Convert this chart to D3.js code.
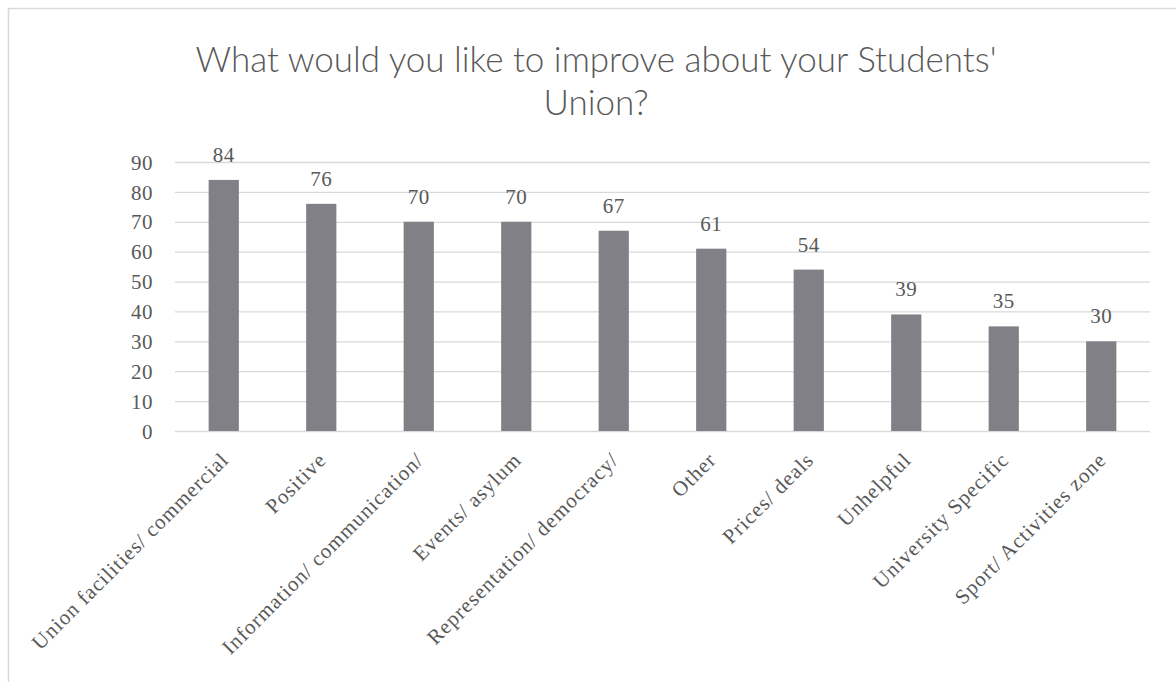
<!DOCTYPE html>
<html>
<head>
<meta charset="utf-8">
<script src="https://cdn.jsdelivr.net/npm/d3@7"></script>
<style>
  html, body { margin: 0; padding: 0; background: #ffffff; }
  svg { display: block; }
</style>
</head>
<body>
<svg id="chart" width="1176" height="682"></svg>
<script>
// Survey responses: what students would like to improve
const categories = [
  "Union facilities/ commercial",
  "Positive",
  "Information/ communication/",
  "Events/ asylum",
  "Representation/ democracy/",
  "Other",
  "Prices/ deals",
  "Unhelpful",
  "University Specific",
  "Sport/ Activities zone"
];
const counts = [84, 76, 70, 70, 67, 61, 54, 39, 35, 30];
const yTicks = [0, 10, 20, 30, 40, 50, 60, 70, 80, 90];
const titleLines = ["What would you like to improve about your Students'", "Union?"];

const svg = d3.select("#chart");
const W = 1176, H = 682;
const plot = { left: 175, right: 1150, top: 162, bottom: 431 };

// outer chart frame
svg.append("rect")
  .attr("x", 8.5).attr("y", 8.5)
  .attr("width", W + 40).attr("height", H + 40)
  .attr("fill", "#ffffff")
  .attr("stroke", "#d9d9d9")
  .attr("stroke-width", 1.5);

const x = d3.scaleBand()
  .domain(categories)
  .range([plot.left, plot.right])
  .paddingInner(0.69)
  .paddingOuter(0.345);

const y = d3.scaleLinear()
  .domain([0, 90])
  .range([plot.bottom, plot.top]);

const serif = "'Liberation Serif', 'Times New Roman', serif";
const textColor = "#595959";

// horizontal gridlines + value axis labels
const yAxis = d3.axisLeft(y)
  .tickValues(yTicks)
  .tickSize(-(plot.right - plot.left))
  .tickPadding(22)
  .tickFormat(d3.format("d"));

const gy = svg.append("g")
  .attr("transform", `translate(${plot.left},0)`)
  .call(yAxis)
  .attr("font-family", serif);
gy.select(".domain").remove();
gy.selectAll(".tick line")
  .attr("stroke", "#d9d9d9")
  .attr("stroke-width", 1.3);
gy.selectAll(".tick text")
  .attr("fill", textColor)
  .attr("font-family", serif)
  .attr("font-size", 21)
  .attr("letter-spacing", 0.5)
  .attr("dy", "0.34em");

// bars
svg.append("g")
  .selectAll("rect")
  .data(counts)
  .join("rect")
  .attr("x", (d, i) => x(categories[i]))
  .attr("y", d => y(d))
  .attr("width", x.bandwidth())
  .attr("height", d => y(0) - y(d))
  .attr("fill", "#808086");

// value labels above bars
svg.append("g")
  .selectAll("text")
  .data(counts)
  .join("text")
  .attr("x", (d, i) => x(categories[i]) + x.bandwidth() / 2)
  .attr("y", d => y(d) - 18)
  .attr("text-anchor", "middle")
  .attr("fill", textColor)
  .attr("font-family", serif)
  .attr("font-size", 21)
  .attr("letter-spacing", 0.5)
  .text(d => d);

// category axis (labels rotated 45 degrees)
const xAxis = d3.axisBottom(x).tickSize(0).tickPadding(0);
const gx = svg.append("g")
  .attr("transform", `translate(0,${plot.bottom})`)
  .call(xAxis)
  .attr("font-family", serif);
gx.select(".domain").remove();
gx.selectAll(".tick text")
  .attr("fill", textColor)
  .attr("font-family", serif)
  .attr("font-size", 21)
  .attr("letter-spacing", 1)
  .attr("text-anchor", "end")
  .attr("dy", "0.35em")
  .attr("y", 0)
  .attr("transform", "translate(1,25) rotate(-45)");

// title
const title = svg.append("g");
titleLines.forEach((line, i) => {
  title.append("text")
    .attr("x", 596)
    .attr("y", 72 + i * 43)
    .attr("text-anchor", "middle")
    .attr("fill", textColor)
    .attr("font-family", "Lato, 'Open Sans', sans-serif")
    .attr("font-weight", 300)
    .attr("font-size", 35)
    .text(line);
});
</script>
</body>
</html>
